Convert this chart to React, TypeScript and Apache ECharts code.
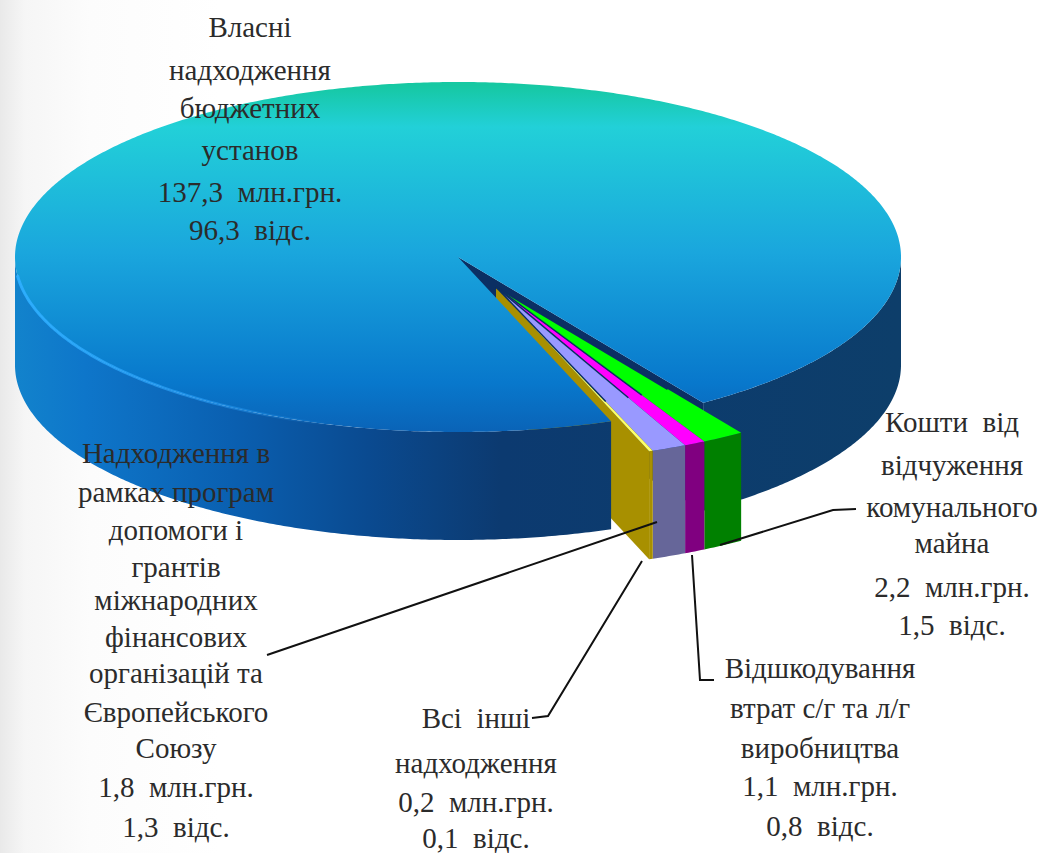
import React, { useEffect, useRef } from "react";
import * as echarts from "echarts";

const categories = [
  "Власні надходження бюджетних установ",
  "Кошти від відчуження комунального майна",
  "Відшкодування втрат с/г та л/г виробництва",
  "Надходження в рамках програм допомоги і грантів міжнародних фінансових організацій та Європейського Союзу",
  "Всі інші надходження",
];
const valuesMln = [137.3, 2.2, 1.1, 1.8, 0.2];
const percents = [96.3, 1.5, 0.8, 1.3, 0.1];
const nameLines = [
  ["Власні", "надходження", "бюджетних", "установ"],
  ["Кошти  від", "відчуження", "комунального", "майна"],
  ["Відшкодування", "втрат с/г та л/г", "виробництва"],
  ["Надходження в", "рамках програм", "допомоги і", "грантів", "міжнародних", "фінансових", "організацій та", "Європейського", "Союзу"],
  ["Всі  інші", "надходження"],
];
const labelCx = [250, 952, 820, 176, 476];
const labelYs = [
  [27, 70, 108, 150, 192, 230],
  [422, 465, 507, 543, 587, 625],
  [668, 708, 748, 786, 826],
  [453, 492, 530, 567, 600, 637, 673, 712, 748, 787, 827],
  [718, 763, 802, 838],
];
const topColors = ["", "#00ff00", "#ff00ff", "#9999ff", "#ffff66"];
const wallColors = ["", "#008000", "#800080", "#666699", "#a89000"];
const leaders = [
  [[720, 545], [833, 510], [856, 509]],
  [[692, 555], [700, 680], [714, 680]],
  [[657, 522], [267, 655]],
  [[642, 561], [548, 716], [532, 718]],
];

const CX = 458, CY = 257, RX = 443, RY = 175, DEPTH = 108;
const EX = 496, EY = 287;
const START = 33.6;
const R = Math.PI / 180;

const fmt = (v: number) => String(v).replace(".", ",");
const pt = (ox: number, oy: number, deg: number, dy = 0) => [
  ox + RX * Math.sin(deg * R),
  oy + RY * Math.cos(deg * R) + dy,
];
const arc = (ox: number, oy: number, a: number, b: number, dy = 0) => {
  const n = Math.max(2, Math.ceil(Math.abs(b - a) / 0.5));
  const out: number[][] = [];
  for (let i = 0; i <= n; i++) out.push(pt(ox, oy, a + ((b - a) * i) / n, dy));
  return out;
};

export default function App() {
  const ref = useRef<HTMLDivElement>(null);
  useEffect(() => {
    document.body.style.margin = "0";
    const chart = echarts.init(ref.current!, undefined, { renderer: "svg" });
    const total = valuesMln.reduce((a, b) => a + b, 0);
    const sweep = (i: number) => (valuesMln[i] / total) * 360;

    const G = (x0: number, y0: number, x1: number, y1: number, stops: [number, string][]) =>
      new echarts.graphic.LinearGradient(
        x0, y0, x1, y1,
        stops.map(([offset, color]) => ({ offset, color })),
        true
      );
    const topFill = () =>
      G(0, 85, 0, 435, [
        [0, "#16c8a2"],
        [0.12, "#22d0d8"],
        [0.48, "#1aa6dd"],
        [0.85, "#0878cc"],
        [1, "#0a62b6"],
      ]);
    const wallFill = () =>
      G(14, 0, 900, 0, [
        [0, "#1283cc"],
        [0.08, "#0e76ca"],
        [0.25, "#0a5fb0"],
        [0.4, "#0a4a90"],
        [0.55, "#0c3a70"],
        [1, "#0d3e6a"],
      ]);
    const poly = (points: number[][], fill: any, z2: number) => ({
      type: "polygon",
      z2,
      shape: { points },
      style: { fill, stroke: null },
    });

    const renderItem = (params: any, api: any) => {
      const i = params.dataIndex;
      const sw = (api.value(0) / total) * 360;
      const children: any[] = [];
      if (i === 0) {
        const a = START;
        const b = START + sw;
        const notch = pt(CX, CY, a);
        children.push(
          poly([[CX, CY], notch, [notch[0], notch[1] + DEPTH], [CX, CY + DEPTH]], "#0b2f63", 1)
        );
        const wallR = [...arc(CX, CY, a, 90), ...arc(CX, CY, 90, a, DEPTH)];
        const wallL = [...arc(CX, CY, 270, b), ...arc(CX, CY, b, 270, DEPTH)];
        children.push(poly(wallR, wallFill(), 2));
        children.push(poly(wallL, wallFill(), 2));
        children.push(poly([[CX, CY], ...arc(CX, CY, a, b)], topFill(), 3));
        children.push({
          type: "polyline",
          z2: 4,
          shape: { points: arc(CX, CY, 276, 345) },
          style: {
            fill: null,
            lineWidth: 3,
            stroke: G(14, 0, 330, 0, [
              [0, "rgba(45,175,255,0.95)"],
              [0.6, "rgba(45,165,255,0.55)"],
              [1, "rgba(45,165,255,0)"],
            ]),
          },
        });
      } else {
        let a = START;
        for (let k = 1; k < i; k++) a -= sweep(k);
        const b = a - sw;
        if (i === valuesMln.length - 1) {
          const o = pt(EX, EY, b);
          children.push(
            poly([[EX, EY], o, [o[0], o[1] + DEPTH], [EX, EY + DEPTH]], wallColors[i], 1)
          );
        }
        children.push(poly([...arc(EX, EY, a, b), ...arc(EX, EY, b, a, DEPTH)], wallColors[i], 5));
        children.push(poly([[EX, EY], ...arc(EX, EY, a, b)], topColors[i], 6));
        const o = pt(EX, EY, a);
        children.push({
          type: "line",
          z2: 7,
          shape: {
            x1: EX, y1: EY,
            x2: EX + (o[0] - EX) * 0.7, y2: EY + (o[1] - EY) * 0.7,
          },
          style: { stroke: "#0b2f63", lineWidth: i === 1 ? 2 : 1.5 },
        });
      }
      return { type: "group", children };
    };

    const texts: any[] = [];
    categories.forEach((_, i) => {
      const lines = [...nameLines[i], `${fmt(valuesMln[i])}  млн.грн.`, `${fmt(percents[i])}  відс.`];
      lines.forEach((text, j) => {
        texts.push({
          type: "text",
          x: labelCx[i],
          y: labelYs[i][j],
          z: 100,
          style: {
            text,
            fill: "#2b2b2b",
            font: '29px "Liberation Serif"',
            textAlign: "center",
            textVerticalAlign: "middle",
          },
        });
      });
    });
    const lineEls = leaders.map((points) => ({
      type: "polyline",
      z: 90,
      shape: { points },
      style: { fill: null, stroke: "#111", lineWidth: 2 },
    }));

    chart.setOption({
      animation: false,
      tooltip: { show: false },
      series: [
        {
          type: "custom",
          coordinateSystem: "none",
          silent: true,
          clip: false,
          renderItem,
          data: valuesMln.map((v, i) => ({ name: categories[i], value: [v] })),
        },
      ],
      graphic: { elements: [...lineEls, ...texts] },
    });
    return () => chart.dispose();
  }, []);
  return (
    <div
      ref={ref}
      style={{
        position: "fixed",
        left: 0,
        top: 0,
        width: 1046,
        height: 853,
        background:
          "linear-gradient(90deg, #e9e9e9 0px, #f6f6f6 25px, #fcfcfc 90px, #ffffff 220px)",
      }}
    />
  );
}
